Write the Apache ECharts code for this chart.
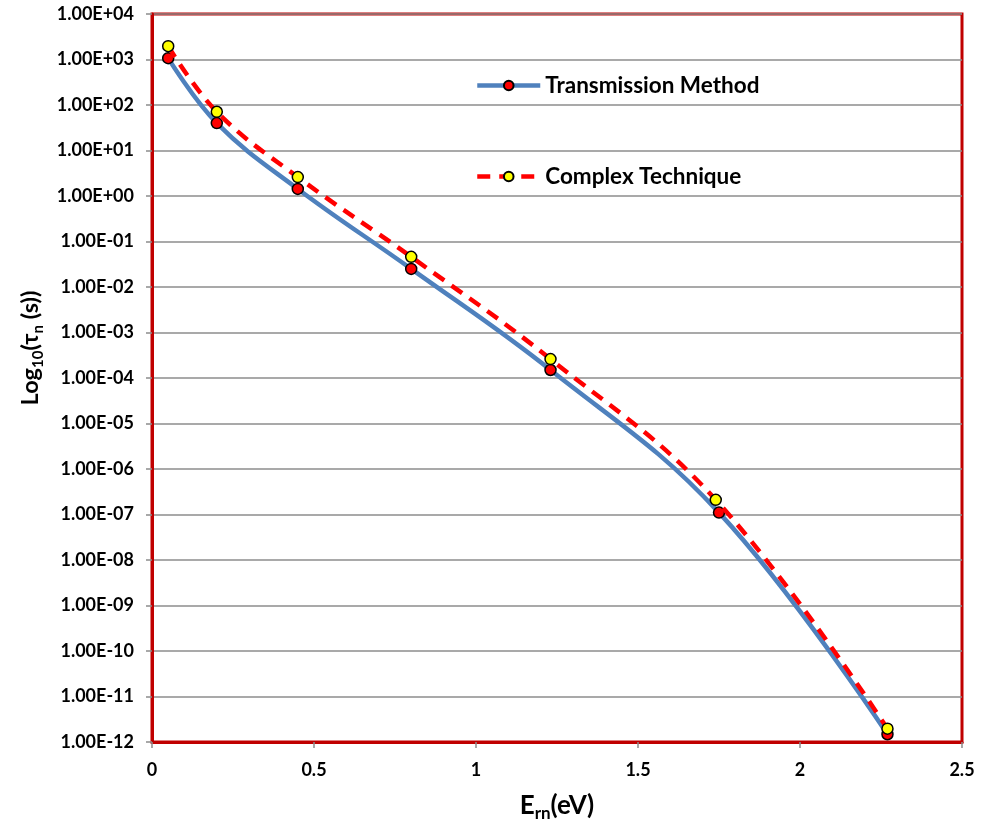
<!DOCTYPE html>
<html>
<head>
<meta charset="utf-8">
<script src="https://cdn.jsdelivr.net/npm/echarts@6/dist/echarts.min.js"></script>
<style>html,body{margin:0;padding:0;background:#fff}#c{width:988px;height:826px}</style>
</head>
<body>
<div id="c"></div>
<script>
const seriesNames = ['Transmission Method', 'Complex Technique'];
const energyTransmission = [0.05, 0.2, 0.45, 0.8, 1.23, 1.75, 2.27];
const tauTransmission = [1.07e3, 40, 1.43, 2.5e-2, 1.5e-4, 1.1e-7, 1.48e-12];
const energyComplex = [0.05, 0.2, 0.45, 0.8, 1.23, 1.74, 2.27];
const tauComplex = [1.96e3, 71, 2.6, 4.6e-2, 2.6e-4, 2.1e-7, 1.96e-12];
const xTicks = [0, 0.5, 1, 1.5, 2, 2.5];
const yMinExp = -12, yMaxExp = 4;

const font = 'Lato';
function pairs(xs, ys){ return xs.map((x,i)=>[x, ys[i]]); }
function expLabel(v){
  const e = Math.round(Math.log10(v));
  return '1.00E' + (e < 0 ? '-' : '+') + String(Math.abs(e)).padStart(2,'0');
}
function richName(big, small, lh){
  return {
    a: {fontFamily: font, fontWeight: 'bold', fontSize: big, color: '#000', lineHeight: lh},
    s: {fontFamily: font, fontWeight: 'bold', fontSize: small, color: '#000', lineHeight: small, verticalAlign: 'bottom'}
  };
}
const legendText = {fontFamily: font, fontWeight: 'bold', fontSize: 22.5, color: '#000'};
const chart = echarts.init(document.getElementById('c'));
chart.setOption({
  animation: false,
  backgroundColor: '#fff',
  grid: {left: 152, right: 26, top: 14, bottom: 84, show: true, borderColor: '#c00000', borderWidth: 3,
         backgroundColor: 'transparent', containLabel: false, outerBoundsMode: 'none'},
  xAxis: {
    type: 'value', min: xTicks[0], max: xTicks[xTicks.length-1], interval: 0.5,
    axisLine: {show: true, onZero: false, lineStyle: {color: '#c00000', width: 3}},
    axisTick: {show: true, length: 6, lineStyle: {color: '#8c8c8c', width: 1.5}},
    splitLine: {show: false},
    axisLabel: {fontFamily: font, fontWeight: 'bold', fontSize: 18, color: '#000', margin: 19},
    name: '{a|E}{s|rn}{a|(eV)}', nameLocation: 'middle', nameGap: 48,
    nameTextStyle: {rich: richName(26, 17, 32)}
  },
  yAxis: {
    type: 'log', logBase: 10, min: Math.pow(10, yMinExp), max: Math.pow(10, yMaxExp), interval: 1,
    axisLine: {show: true, lineStyle: {color: '#c00000', width: 3}},
    axisTick: {show: true, length: 6, inside: false, lineStyle: {color: '#8c8c8c', width: 1.5}},
    splitLine: {show: true, lineStyle: {color: '#8c8c8c', width: 1.5}},
    minorTick: {show: false}, minorSplitLine: {show: false},
    axisLabel: {fontFamily: font, fontWeight: 'bold', fontSize: 18, color: '#000', margin: 18, formatter: expLabel},
    name: '{a|Log}{s|10}{a|(τ}{s|n}{a| (s))}', nameLocation: 'middle', nameGap: 106,
    nameTextStyle: {rich: richName(23.5, 15, 30), padding: [0, 0, 0, 60]}
  },
  legend: [
    {data: [seriesNames[0]], left: 475, top: 74, padding: 0, itemWidth: 63, itemHeight: 12,
     lineStyle: {width: 4.5}, textStyle: legendText},
    {data: [seriesNames[1]], left: 475, top: 165, padding: 0, itemWidth: 63, itemHeight: 12,
     lineStyle: {width: 4.5}, textStyle: legendText}
  ],
  series: [
    {
      name: seriesNames[0], type: 'line', data: pairs(energyTransmission, tauTransmission), smooth: 0.4,
      symbol: 'circle', symbolSize: 11,
      lineStyle: {color: '#4f81bd', width: 4.5},
      itemStyle: {color: '#ff0000', borderColor: '#000', borderWidth: 1.5},
      z: 2
    },
    {
      name: seriesNames[1], type: 'line', data: pairs(energyComplex, tauComplex), smooth: 0.4,
      symbol: 'circle', symbolSize: 11,
      lineStyle: {color: '#ff0000', width: 4.5, type: [13, 9]},
      itemStyle: {color: '#ffff00', borderColor: '#000', borderWidth: 1.5},
      z: 3
    }
  ]
});
</script>
</body>
</html>
